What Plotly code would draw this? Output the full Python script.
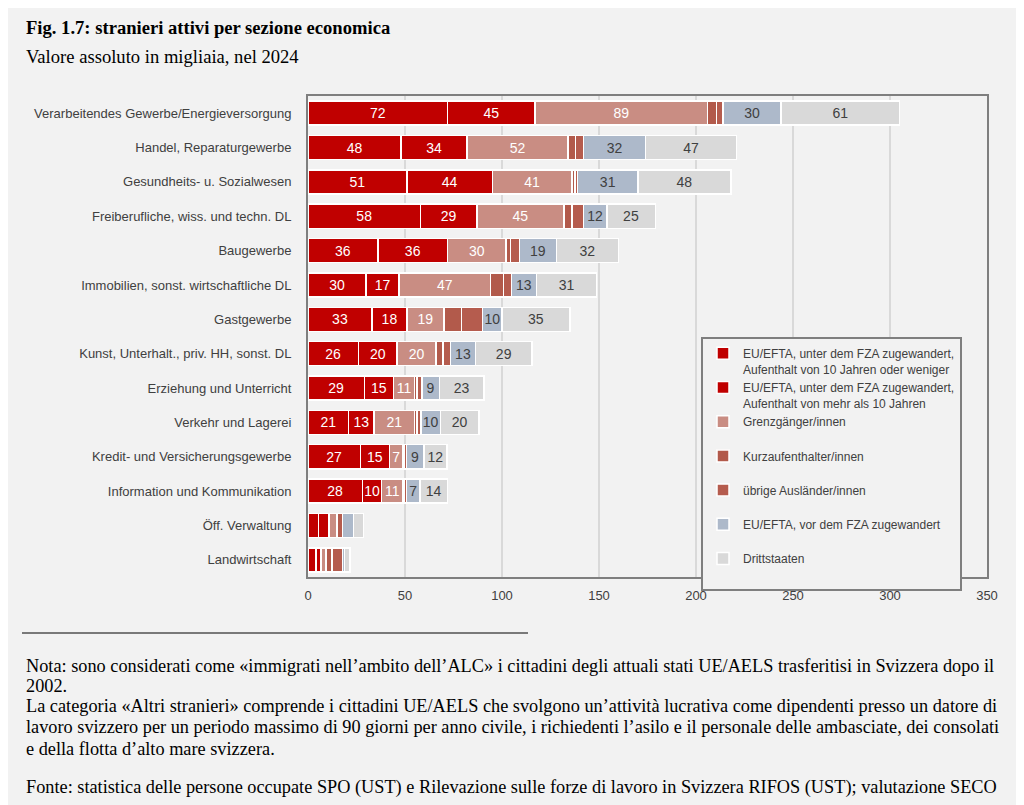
import plotly.graph_objects as go

categories = [
    "Verarbeitendes Gewerbe/Energieversorgung",
    "Handel, Reparaturgewerbe",
    "Gesundheits- u. Sozialwesen",
    "Freiberufliche, wiss. und techn. DL",
    "Baugewerbe",
    "Immobilien, sonst. wirtschaftliche DL",
    "Gastgewerbe",
    "Kunst, Unterhalt., priv. HH, sonst. DL",
    "Erziehung und Unterricht",
    "Verkehr und Lagerei",
    "Kredit- und Versicherungsgewerbe",
    "Information und Kommunikation",
    "Öff. Verwaltung",
    "Landwirtschaft",
]

eu_fza_le10 = [72, 48, 51, 58, 36, 30, 33, 26, 29, 21, 27, 28, 5.3, 4.2]
eu_fza_gt10 = [45, 34, 44, 29, 36, 17, 18, 20, 15, 13, 15, 10, 5.6, 2.5]
grenzgaenger = [89, 52, 41, 45, 30, 47, 19, 20, 11, 21, 7, 11, 3.7, 2.5]
kurzaufenthalter = [4.5, 3.9, 1.5, 4.0, 2.5, 6.8, 9.0, 3.5, 1.2, 1.2, 0.8, 0.6, 0.5, 3.2]
uebrige = [3.4, 4.1, 1.5, 6.0, 4.5, 4.0, 11.0, 3.9, 2.5, 2.0, 0.9, 1.2, 2.8, 5.5]
eu_vor_fza = [30, 32, 31, 12, 19, 13, 10, 13, 9, 10, 9, 7, 5.6, 0.8]
drittstaaten = [61, 47, 48, 25, 32, 31, 35, 29, 23, 20, 12, 14, 5.0, 3.0]

labelled_rows = 12  # the last two rows carry no value labels

series = [
    ("EU/EFTA, unter dem FZA zugewandert,<br>Aufenthalt von 10 Jahren oder weniger", eu_fza_le10, "#c00000", "white", True),
    ("EU/EFTA, unter dem FZA zugewandert,<br>Aufenthalt von mehr als 10 Jahren", eu_fza_gt10, "#c00000", "white", True),
    ("Grenzgänger/innen<br> ", grenzgaenger, "#c98d83", "white", True),
    ("Kurzaufenthalter/innen<br> ", kurzaufenthalter, "#b25a4b", "white", False),
    ("übrige Ausländer/innen<br> ", uebrige, "#b55c4e", "white", False),
    ("EU/EFTA, vor dem FZA zugewandert<br> ", eu_vor_fza, "#adb9ca", "#404040", True),
    ("Drittstaaten<br> ", drittstaaten, "#d9d9d9", "#404040", True),
]

# page offset of the figure (browser body margin)
OFF = 8
W, H = 1016, 797
L, R, T, B = 300, 37, 88, 228
PW, PH = W - L - R, H - T - B

def px2x(px):
    return (px - OFF - L) / PW

def py2y(py):
    return (H - B - (py - OFF)) / PH

SANS = "Liberation Sans, Arial, sans-serif"
SERIF = "Liberation Serif, Times New Roman, serif"

fig = go.Figure()
for name, vals, color, tcolor, show_text in series:
    if show_text:
        txt = [f"{v:.0f}" if i < labelled_rows else "" for i, v in enumerate(vals)]
    else:
        txt = ["" for _ in vals]
    fig.add_trace(go.Bar(
        y=categories, x=vals, name=name, orientation="h",
        marker=dict(color=color, line=dict(color="white", width=1.5)),
        text=txt, textposition="inside", insidetextanchor="middle",
        textangle=0, textfont=dict(color=tcolor, size=14, family=SANS),
        hoverinfo="x+y+name",
    ))

fig.update_layout(
    width=W, height=H,
    barmode="stack", bargap=0.3,
    paper_bgcolor="#f2f2f2", plot_bgcolor="#f2f2f2",
    margin=dict(l=L, r=R, t=T, b=B, pad=0),
    uniformtext=dict(minsize=14, mode="show"),
    font=dict(family=SANS, size=13, color="#404040"),
    xaxis=dict(range=[0, 350], dtick=50, tick0=0, showgrid=True,
               gridcolor="#d9d9d9", gridwidth=2, zeroline=False,
               showline=True, mirror=True, linecolor="#7f7f7f", linewidth=2,
               ticks="", ticklabelstandoff=5,
               tickfont=dict(family=SANS, size=13, color="#404040")),
    yaxis=dict(autorange="reversed", showgrid=False, zeroline=False,
               showline=True, mirror=True, linecolor="#7f7f7f", linewidth=2,
               ticks="", ticklabelstandoff=12,
               tickfont=dict(family=SANS, size=13, color="#404040")),
    legend=dict(x=px2x(701), y=py2y(337), xanchor="left", yanchor="top",
                bgcolor="#f2f2f2", bordercolor="#7f7f7f", borderwidth=2,
                traceorder="normal", valign="top", itemclick=False,
                font=dict(family=SANS, size=12, color="#404040"),
                tracegroupgap=0, itemwidth=30),
    showlegend=True,
)

title_lines = [
    ("<b>Fig. 1.7: stranieri attivi per sezione economica</b>", 27),
    ("Valore assoluto in migliaia, nel 2024", 57),
]
note_lines = [
    ("Nota: sono considerati come «immigrati nell’ambito dell’ALC» i cittadini degli attuali stati UE/AELS trasferitisi in Svizzera dopo il", 666),
    ("2002.", 686),
    ("La categoria «Altri stranieri» comprende i cittadini UE/AELS che svolgono un’attività lucrativa come dipendenti presso un datore di", 706),
    ("lavoro svizzero per un periodo massimo di 90 giorni per anno civile, i richiedenti l’asilo e il personale delle ambasciate, dei consolati", 727),
    ("e della flotta d’alto mare svizzera.", 749),
    ("Fonte: statistica delle persone occupate SPO (UST) e Rilevazione sulle forze di lavoro in Svizzera RIFOS (UST); valutazione SECO", 787),
]
annotations = []
for i, (text, ypx) in enumerate(title_lines + note_lines):
    annotations.append(dict(
        text=text, x=px2x(24), y=py2y(ypx), xanchor="left", yanchor="middle",
        align="left", xref="paper", yref="paper", showarrow=False,
        font=dict(family=SERIF, size=18.6 if i < 2 else 18.3, color="black")))
fig.update_layout(annotations=annotations)

shapes = [
    dict(type="line", xref="paper", yref="paper", x0=px2x(22), x1=px2x(528),
         y0=py2y(633), y1=py2y(633), line=dict(color="black", width=1)),
]
fig.update_layout(shapes=shapes)

fig.write_html("out.html")
